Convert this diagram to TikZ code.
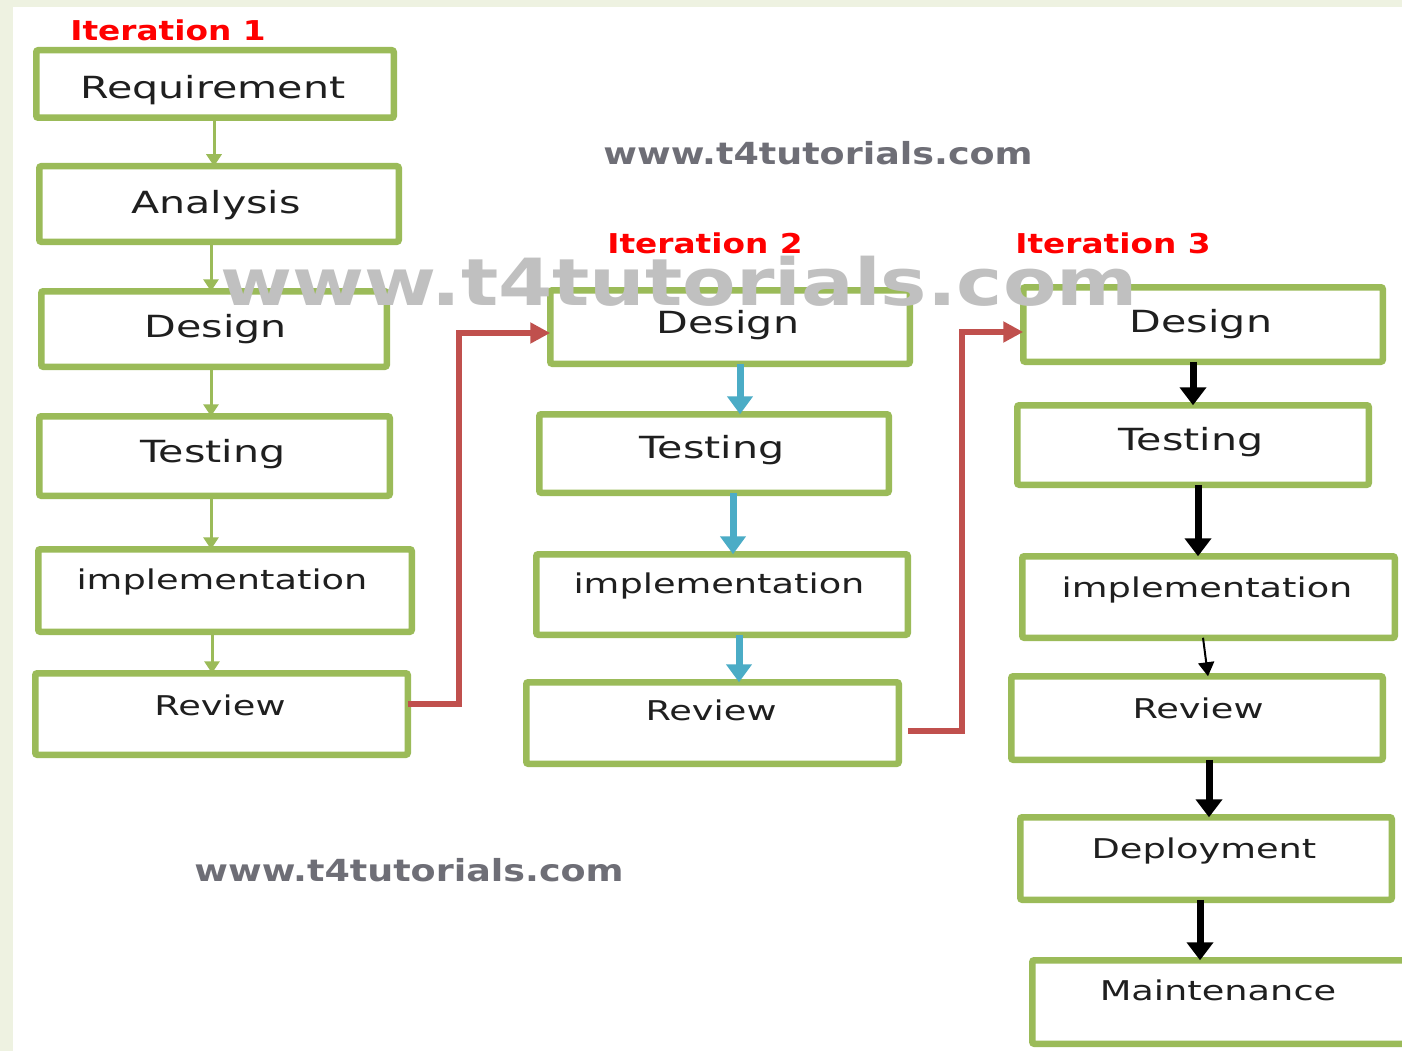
\documentclass[tikz,border=0pt]{standalone}
\usepackage{fontspec}
\usetikzlibrary{arrows.meta}
\newfontfamily\boxfont{DejaVu Sans}[FakeStretch=1.35]
\newfontfamily\wmfont{DejaVu Sans}[FakeStretch=1.2]
\definecolor{boxgreen}{HTML}{9BBB59}
\definecolor{arrblue}{HTML}{4BACC6}
\definecolor{arrred}{HTML}{C0504D}
\definecolor{bgstrip}{HTML}{EEF2E1}
\definecolor{wmdark}{HTML}{6E6E76}
\definecolor{wmlight}{HTML}{C0C0C0}
\definecolor{itred}{HTML}{FF0000}
\begin{document}
\begin{tikzpicture}[x=1pt,y=-1pt,
 stage/.style={draw=boxgreen,line width=6.5pt,rounded corners=2pt,inner sep=0pt,outer sep=0pt,fill=white},
 bigtxt/.style={anchor=base,inner sep=0pt,font=\boxfont\fontsize{30.5}{34}\selectfont,text=black!88},
 smalltxt/.style={anchor=base,inner sep=0pt,font=\boxfont\fontsize{27.2}{30}\selectfont,text=black!88},
 iter/.style={anchor=base,inner sep=0pt,font=\wmfont\bfseries\fontsize{27.3}{30}\selectfont,text=itred},
 wm/.style={anchor=base,inner sep=0pt,font=\wmfont\bfseries\fontsize{30.4}{34}\selectfont,text=wmdark},
 wmbig/.style={anchor=base,inner sep=0pt,font=\wmfont\bfseries\fontsize{65}{70}\selectfont,text=wmlight},
 garrow/.style={draw=boxgreen,line width=3pt,-{Triangle[width=15pt,length=12pt]}},
 barrow/.style={draw=arrblue,line width=7pt,-{Triangle[width=25pt,length=18pt]}},
 karrow/.style={draw=black,line width=7pt,-{Triangle[width=26pt,length=18pt]}},
 kthin/.style={draw=black,line width=2pt,-{Triangle[width=16pt,length=14pt]}},
 rconn/.style={draw=arrred,line width=6.5pt,line join=miter,-{Triangle[width=20pt,length=20pt]}}
]
\useasboundingbox (0,0) rectangle (1402,1051);
\clip (0,0) rectangle (1402,1051);
\fill[bgstrip] (0,0) rectangle (1402,1051);
\fill[white] (13,7) rectangle (1402,1051);

% column 1
\node[stage,minimum width=357.5pt,minimum height=67.5pt] (r1) at (215,84) {};
\node[stage,minimum width=359.5pt,minimum height=75.5pt] (a1) at (219,204) {};
\node[stage,minimum width=345.5pt,minimum height=75.5pt] (d1) at (214,329) {};
\node[stage,minimum width=350.5pt,minimum height=79.5pt] (t1) at (214.5,456) {};
\node[stage,minimum width=373.5pt,minimum height=82.5pt] (i1) at (225,590.5) {};
\node[stage,minimum width=372.5pt,minimum height=81.5pt] (v1) at (221.5,714) {};
% column 2
\node[stage,minimum width=359.5pt,minimum height=73.5pt] (d2) at (730,327) {};
\node[stage,minimum width=349.5pt,minimum height=78.5pt] (t2) at (714,453.5) {};
\node[stage,minimum width=371.5pt,minimum height=80.5pt] (i2) at (722,594.5) {};
\node[stage,minimum width=372.5pt,minimum height=81.5pt] (v2) at (712.5,723) {};
% column 3
\node[stage,minimum width=359.5pt,minimum height=74.5pt] (d3) at (1203,324.5) {};
\node[stage,minimum width=351.5pt,minimum height=79.5pt] (t3) at (1193,445) {};
\node[stage,minimum width=372.5pt,minimum height=81.5pt] (i3) at (1208.5,597) {};
\node[stage,minimum width=371.5pt,minimum height=83.5pt] (v3) at (1197,718) {};
\node[stage,minimum width=371.5pt,minimum height=82.5pt] (p3) at (1206,858.5) {};
\node[stage,minimum width=374.5pt,minimum height=83.5pt] (m3) at (1219.5,1002) {};

% green arrows
\draw[garrow] ([xshift=-1pt]r1.south) -- ([xshift=-5pt]a1.north);
\draw[garrow] ([xshift=-8pt]a1.south) -- ([xshift=-3pt]d1.north);
\draw[garrow] ([xshift=-3pt]d1.south) -- ([xshift=-3.5pt]t1.north);
\draw[garrow] ([xshift=-3.5pt]t1.south) -- ([xshift=-14pt]i1.north);
\draw[garrow] ([xshift=-13pt]i1.south) -- ([xshift=-9.5pt]v1.north);
% blue arrows
\draw[barrow] ([xshift=10pt]d2.south) -- ([xshift=26pt]t2.north);
\draw[barrow] ([xshift=19pt]t2.south) -- ([xshift=11pt]i2.north);
\draw[barrow] ([xshift=17pt]i2.south) -- ([xshift=26.5pt]v2.north);
% black arrows
\draw[karrow] ([xshift=-10pt]d3.south) -- ([xshift=0pt]t3.north);
\draw[karrow] ([xshift=5pt]t3.south) -- ([xshift=-10.5pt]i3.north);
\draw[kthin] ([xshift=-5.5pt]i3.south) -- ([xshift=11pt]v3.north);
\draw[karrow] ([xshift=12pt]v3.south) -- ([xshift=3pt]p3.north);
\draw[karrow] ([xshift=-6pt]p3.south) -- ([xshift=-19.5pt]m3.north);
% red connectors
\draw[rconn] ([yshift=10pt]v1.east) -- ++(51,0) |- ([yshift=-6pt]d2.west);
\draw[rconn] ([xshift=9pt,yshift=-8pt]v2.east) -- ++(54,0) |- ([yshift=-7.5pt]d3.west);

% texts
\node[bigtxt] (r1t) at (213,99) {Requirement};
\node[bigtxt] (a1t) at (216,213) {Analysis};
\node[bigtxt] (d1t) at (216,337) {Design};
\node[bigtxt] (t1t) at (213,462) {Testing};
\node[smalltxt] (i1t) at (222,589) {implementation};
\node[smalltxt] (v1t) at (220,715) {Review};

\node[bigtxt] (d2t) at (728,333) {Design};
\node[bigtxt] (t2t) at (712,458) {Testing};
\node[smalltxt] (i2t) at (719,593) {implementation};
\node[smalltxt] (v2t) at (711,720) {Review};

\node[bigtxt] (d3t) at (1201,332) {Design};
\node[bigtxt] (t3t) at (1191,450) {Testing};
\node[smalltxt] (i3t) at (1207,597) {implementation};
\node[smalltxt] (v3t) at (1198,718) {Review};
\node[smalltxt] (p3t) at (1204,858) {Deployment};
\node[smalltxt] (m3t) at (1218,1000) {Maintenance};

\node[iter] (it1) at (168,41) {Iteration 1};
\node[iter] (it2) at (705,253) {Iteration 2};
\node[iter] (it3) at (1113,253) {Iteration 3};

\node[wm] (wm1) at (818,165) {www.t4tutorials.com};
\node[wm] (wm3) at (409,881) {www.t4tutorials.com};
\node[wmbig] (wm2) at (679,305) {www.t4tutorials.com};
\end{tikzpicture}
\end{document}
